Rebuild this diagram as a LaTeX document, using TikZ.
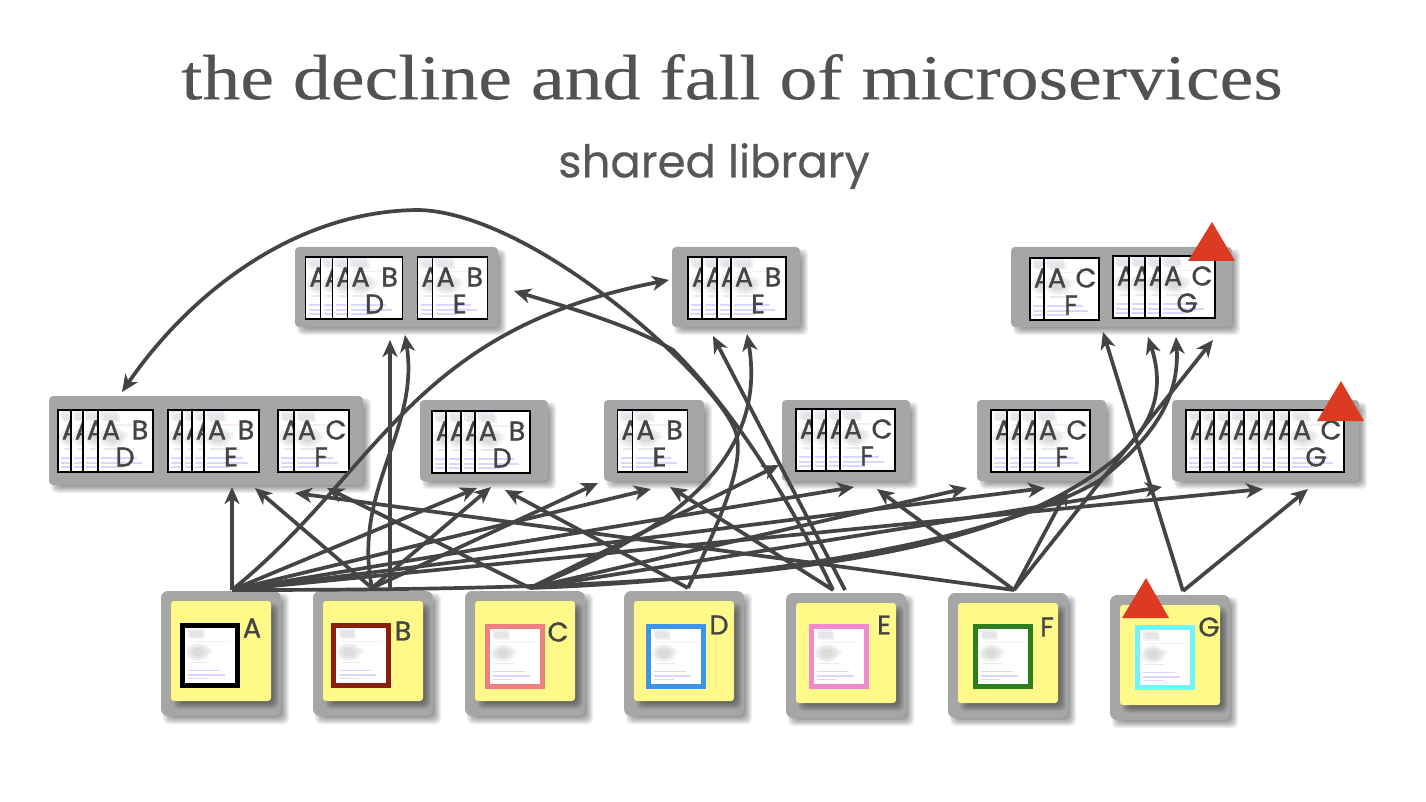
\documentclass[tikz,border=0pt]{standalone}
\usepackage{fontspec}
\setmainfont{Liberation Serif}
\newfontfamily\titlefont[FakeStretch=1.185,FakeBold=0.3]{Liberation Serif}
\newfontfamily\labelfont[FakeBold=1.2]{Poppins}
\newfontfamily\subtitlefont[FakeBold=0.4]{Poppins}
\usetikzlibrary{arrows.meta}
\definecolor{ink}{HTML}{444444}
\definecolor{boxgrey}{HTML}{A6A6A6}
\definecolor{sticky}{HTML}{FFF98A}
\definecolor{warn}{HTML}{DC3A22}
\definecolor{frameA}{HTML}{000000}
\definecolor{frameB}{HTML}{8B1F0E}
\definecolor{frameC}{HTML}{F08080}
\definecolor{frameD}{HTML}{3D94E8}
\definecolor{frameE}{HTML}{F08AD0}
\definecolor{frameF}{HTML}{2E7D1E}
\definecolor{frameG}{HTML}{70F5FF}
\newcounter{cardn}
\tikzset{
  x=1pt,y=-1pt,
  conn/.style={draw=ink,line width=3.7pt,-{Stealth[length=17pt,width=15pt,inset=5pt]}},
  connthick/.style={conn,line width=4.6pt},
  greybox/.style={fill=boxgrey,rounded corners=4pt,inner sep=0pt,outer sep=0pt},
  stickybox/.style={fill=sticky,rounded corners=3pt,inner sep=0pt,outer sep=0pt},
  card/.style={fill=white,draw=black,line width=1.4pt,inner sep=0pt,outer sep=0pt,minimum width=55pt,minimum height=62pt,anchor=north west},
  lbl/.style={font=\labelfont\fontsize{27}{27}\selectfont,text=ink,inner sep=0pt},
  warntri/.style={fill=warn,draw=none},
}
% faint page thumbnail, placed in a w x h frame
\newcommand{\thumb}[4]{%
  \begin{scope}[shift={(#1,#2)},x=#3pt,y=-#4pt]
    \fill[blue!20!gray!30,opacity=.4] (.05,.02) rectangle (.36,.16);
    \fill[gray!30,opacity=.35] (.1,.06) rectangle (.4,.2);
    \fill[red!40!gray!30,opacity=.3] (.12,.23) rectangle (.9,.25);
    \fill[gray!60,opacity=.18] (.26,.44) ellipse [x radius=.24,y radius=.16];
    \fill[gray!60,opacity=.18] (.26,.44) ellipse [x radius=.18,y radius=.12];
    \fill[gray!60,opacity=.18] (.26,.44) ellipse [x radius=.12,y radius=.08];
    \fill[green!40!gray!30,opacity=.25] (.42,.36) rectangle (.55,.46);
    \fill[gray!60,opacity=.28] (.1,.62) rectangle (.5,.645);
    \fill[blue!60!white,opacity=.25] (.06,.76) rectangle (.7,.785);
    \fill[blue!60!white,opacity=.25] (.06,.84) rectangle (.8,.865);
    \fill[blue!60!white,opacity=.25] (.06,.91) rectangle (.45,.935);
  \end{scope}}
\newcommand{\softshadow}[4]{%
  \foreach \s in {-4,-3,...,3}
    \fill[black,opacity=.06,rounded corners=5pt] ({#1+5-\s},{#2+5-\s}) rectangle ({#3+5+\s},{#4+5+\s});}
% name, x1, y1, x2, y2
\newcommand{\greyframe}[5]{%
  \softshadow{#2}{#3}{#4}{#5}
  \node[greybox,minimum width={(#4-#2)*1pt},minimum height={(#5-#3)*1pt}] (#1) at ({(#2+#4)/2},{(#3+#5)/2}) {};}
% back lefts, front left, top, upper right letter, lower letter
\newcommand{\docs}[5]{%
  \foreach \l in {#1}{%
    \stepcounter{cardn}
    \node[card] (card\arabic{cardn}) at (\l,#3) {};
    \thumb{\l}{#3}{55}{62}
    \stepcounter{cardn}
    \node[lbl] (cardtext\arabic{cardn}) at ({\l+13},{#3+20}) {A};
  }
  \stepcounter{cardn}
  \node[card] (card\arabic{cardn}) at (#2,#3) {};
  \thumb{#2}{#3}{55}{62}
  \stepcounter{cardn}
  \node[lbl] (cardtext\arabic{cardn}) at ({#2+13},{#3+20}) {A};
  \stepcounter{cardn}
  \node[lbl] (cardtext\arabic{cardn}) at ({#2+42},{#3+20}) {#4};
  \stepcounter{cardn}
  \node[lbl] (cardtext\arabic{cardn}) at ({#2+27},{#3+47}) {#5};}
% name, outer x1, y1, frame x1, frame y1, frame colour, label, label x, label y
\newcommand{\service}[9]{%
  \softshadow{#2}{#3}{#2+120}{#3+125}
  \node[greybox,rounded corners=7pt,minimum width=120pt,minimum height=125pt] (#1) at ({#2+60},{#3+62.5}) {};
  \softshadow{#2+10}{#3+10}{#2+110}{#3+110}
  \node[stickybox,minimum width=100pt,minimum height=100pt] (#1note) at ({#2+60},{#3+60}) {};
  \node[fill=white,inner sep=0pt,outer sep=0pt,minimum width=60pt,minimum height=65pt,anchor=north west] (#1page) at (#4,#5) {};
  \thumb{#4+5}{#5+5}{50}{55}
  \draw[#6,line width=5pt] ({#4+2.5},{#5+2.5}) rectangle ({#4+57.5},{#5+62.5});
  \node[lbl] (#1label) at (#8,#9) {#7};}
\begin{document}
\begin{tikzpicture}
\useasboundingbox (0,0) rectangle (1426,802);
\fill[white] (0,0) rectangle (1426,802);

\node[font=\titlefont\fontsize{64}{64}\selectfont,text=black!68,inner sep=0pt] (title) at (732,77) {the decline and fall of microservices};
\node[font=\subtitlefont\fontsize{45}{45}\selectfont,text=ink!90,inner sep=0pt] (subtitle) at (714,166) {shared library};

% library bundles
\greyframe{topone}{295}{247}{498}{327}
\docs{305.5,320.7,332.4}{347.6}{257}{B}{D}
\docs{417.6}{432.7}{257}{B}{E}
\greyframe{toptwo}{672}{247}{800}{327}
\docs{688,702,717}{731}{257}{B}{E}
\greyframe{topthree}{1011}{247}{1232}{327}
\docs{1030}{1044}{258}{C}{F}
\docs{1113,1129,1145}{1160}{256}{C}{G}

\greyframe{midone}{49}{396}{363}{485}
\docs{58,71,83}{98}{410}{B}{D}
\docs{168,182,192}{204}{410}{B}{E}
\docs{278}{294}{410}{C}{F}
\greyframe{midtwo}{420}{400}{548}{481}
\docs{432,446,461}{475}{411}{B}{D}
\greyframe{midthree}{604}{400}{704}{481}
\docs{617.5}{632.5}{410}{B}{E}
\greyframe{midfour}{782}{400}{910}{481}
\docs{796,812,826}{840}{409}{C}{F}
\greyframe{midfive}{977}{400}{1106}{481}
\docs{991,1007,1020}{1035}{410}{C}{F}
\greyframe{midsix}{1172}{400}{1359}{481}
\docs{1186,1200,1214,1229,1244,1259,1274}{1289}{410}{C}{G}

% services
\service{svcA}{161}{591}{180}{623}{frameA}{A}{252}{628}
\service{svcB}{313}{591}{331}{623}{frameB}{B}{403}{631}
\service{svcC}{465}{591}{485}{624}{frameC}{C}{558}{632}
\service{svcD}{624}{591}{646}{624}{frameD}{D}{719}{625}
\service{svcE}{786}{593}{809}{624}{frameE}{E}{884}{625}
\service{svcF}{948}{593}{973}{624}{frameF}{F}{1047}{627}
\service{svcG}{1110}{595}{1135}{625}{frameG}{G}{1209}{627}

% connector ends
\coordinate (fromA) at (232,590);
\coordinate (fromB) at (372,588);
\coordinate (fromBtwo) at (390,588);
\coordinate (fromC) at (530,588);
\coordinate (fromD) at (688,588);
\coordinate (fromE) at (833,590);
\coordinate (fromEtwo) at (845,590);
\coordinate (fromF) at (1014,590);
\coordinate (fromG) at (1183,591);

\coordinate (midoneA) at (232,487);
\coordinate (midoneB) at (255,488);
\coordinate (midoneC) at (295,493);
\coordinate (midoneD) at (327,488);
\coordinate (midtwoA) at (477,488);
\coordinate (midtwoB) at (491,487);
\coordinate (midtwoC) at (505,490);
\coordinate (midthreeA) at (598,483);
\coordinate (midthreeB) at (651,489);
\coordinate (midthreeC) at (670,487);
\coordinate (midfourA) at (779,465);
\coordinate (midfourB) at (854,487);
\coordinate (midfourC) at (877,489);
\coordinate (midfiveA) at (967,488);
\coordinate (midfiveB) at (1045,488);
\coordinate (midfiveC) at (1068,489);
\coordinate (midsixA) at (1162,487);
\coordinate (midsixB) at (1263,489);
\coordinate (midsixC) at (1308,489);
\coordinate (toponeA) at (390,340);
\coordinate (toponeB) at (405,335);
\coordinate (toponeC) at (514,291);
\coordinate (toptwoA) at (669,280);
\coordinate (toptwoB) at (713,336);
\coordinate (toptwoC) at (747,334);
\coordinate (topthreeA) at (1103,332);
\coordinate (topthreeB) at (1148,337);
\coordinate (topthreeC) at (1176,337);
\coordinate (topthreeD) at (1213,340);
\coordinate (archead) at (122,392);

% connectors
\draw[connthick] (fromA) -- (midoneA);
\draw[conn] (fromA) -- (midtwoA);
\draw[conn] (fromA) -- (midthreeB);
\draw[conn] (fromA) -- (midfourB);
\draw[conn] (fromA) -- (midfiveB);
\draw[conn] (fromA) -- (midsixB);
\draw[conn] (fromA) .. controls (380,470) and (410,330) .. (toptwoA);
\draw[conn] (fromA) .. controls (600,590) and (900,580) .. (1057,497) .. controls (1120,463) and (1175,420) .. (topthreeB);

\draw[conn] (fromB) -- (midoneB);
\draw[conn] (fromB) -- (midtwoB);
\draw[conn] (fromB) -- (midthreeA);
\draw[connthick] (fromBtwo) -- (toponeA);
\draw[conn] (fromB) .. controls (352,490) and (420,430) .. (toponeB);

\draw[conn] (fromC) -- (midoneD);
\draw[conn] (fromC) -- (midfourA);
\draw[conn] (fromC) -- (midfiveA);
\draw[conn] (fromC) -- (midsixA);
\draw[conn] (fromC) .. controls (650,540) and (770,470) .. (toptwoC);
\draw[conn] (fromC) .. controls (760,580) and (1000,540) .. (1100,480) .. controls (1150,440) and (1180,400) .. (topthreeC);

\draw[conn] (fromD) -- (midtwoC);
\draw[conn] (fromD) .. controls (720,520) and (745,465) .. (736,433) .. controls (722,385) and (540,215) .. (420,210) .. controls (290,210) and (185,300) .. (archead);

\draw[conn] (fromE) -- (midthreeC);
\draw[conn] (fromE) .. controls (790,500) and (735,412) .. (673,350) .. controls (630,325) and (570,308) .. (toponeC);
\draw[conn] (fromEtwo) -- (toptwoB);

\draw[conn] (fromF) -- (midoneC);
\draw[conn] (fromF) -- (midfourC);
\draw[conn] (fromF) -- (midfiveC);
\draw[conn] (fromF) -- (topthreeD);

\draw[conn] (fromG) -- (topthreeA);
\draw[conn] (fromG) -- (midsixC);

% warnings
\fill[warntri] (1212,222) -- (1235,261) -- (1188,261) -- cycle;
\fill[warntri] (1341,381) -- (1364,421) -- (1317,421) -- cycle;
\fill[warntri] (1146,578) -- (1169,618) -- (1122,618) -- cycle;
\end{tikzpicture}
\end{document}
